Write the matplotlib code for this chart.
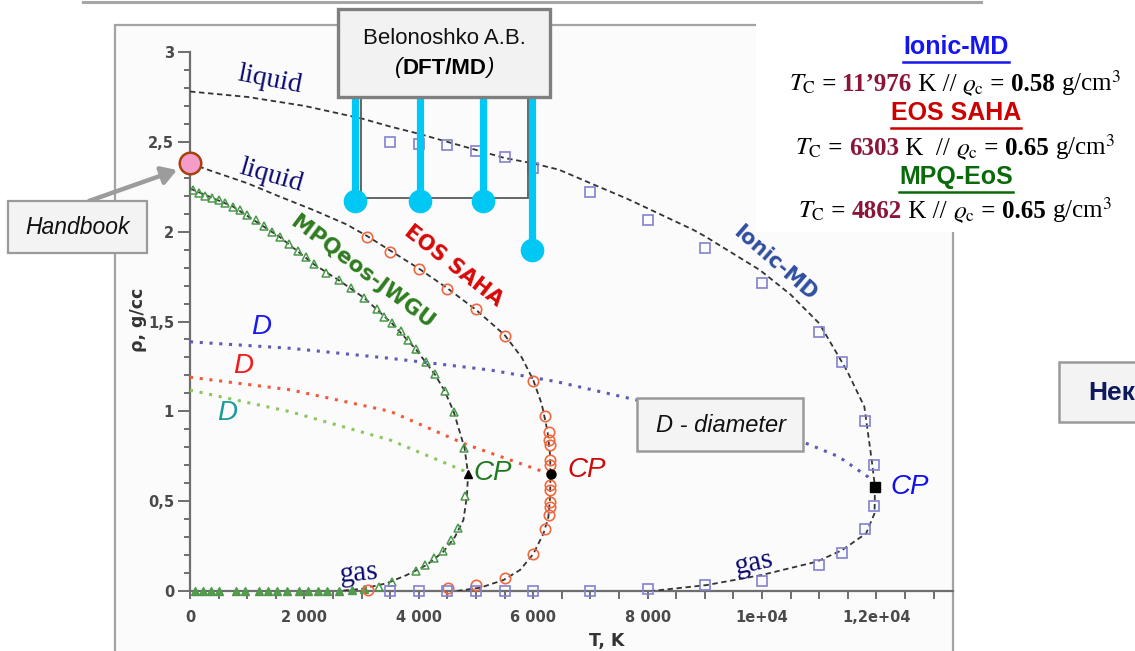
import matplotlib
matplotlib.use("Agg")
import matplotlib.pyplot as plt
from matplotlib.patches import Rectangle
from matplotlib.lines import Line2D
from matplotlib.ticker import MultipleLocator
from matplotlib.offsetbox import TextArea, HPacker, AnnotationBbox

plt.rcParams["mathtext.fontset"] = "stix"

W, H, DPI = 1135, 651, 100

# ---------------- data: density of the coexisting phases (g/cc) vs T (K) -------------
# MPQeos-JWGU (triangles)
mpq_liq_T = [50, 160, 270, 390, 500, 620, 750, 870, 1000, 1150, 1300, 1440, 1580, 1730,
             1880, 2020, 2160, 2370, 2600, 2815, 3050, 3265, 3400, 3530, 3685, 3815, 3950,
             4120, 4280, 4450, 4610, 4795]
mpq_liq_rho = [2.23, 2.215, 2.20, 2.19, 2.175, 2.16, 2.14, 2.12, 2.095, 2.065, 2.03, 2.00,
               1.97, 1.93, 1.895, 1.86, 1.82, 1.768, 1.731, 1.684, 1.629, 1.568, 1.526,
               1.493, 1.449, 1.397, 1.345, 1.276, 1.206, 1.115, 0.998, 0.796]
mpq_gas_T = [4805, 4680, 4560, 4420, 4270, 4110, 3960, 3540, 3300]
mpq_gas_rho = [0.53, 0.352, 0.282, 0.225, 0.185, 0.147, 0.109, 0.05, 0.022]
mpq_vap_T = [80, 220, 360, 500, 800, 960, 1210, 1360, 1520, 1700, 1910, 2060, 2240, 2400,
             2600, 2830, 3050]
mpq_vap_rho = [0, 0, 0, 0, 0, 0, 0, 0, 0, 0, 0, 0, 0, 0, 0, 0.005, 0.01]
mpq_fit_T = [0, 750, 1570, 2160, 2600, 3050, 3530, 3950, 4280, 4450, 4610, 4800, 4862,
             4840, 4780, 4630, 4430, 4140, 3790, 3440, 3000, 2600]
mpq_fit_rho = [2.24, 2.14, 1.97, 1.82, 1.73, 1.63, 1.49, 1.345, 1.206, 1.115, 0.998, 0.796,
               0.65, 0.525, 0.395, 0.30, 0.219, 0.145, 0.089, 0.043, 0.012, 0.0]
mpq_Tc, mpq_rhoc = 4862, 0.65

# EOS SAHA (circles)
saha_liq_T = [3100, 3500, 4000, 4500, 5000, 5500, 6000, 6210, 6270, 6285, 6290, 6300, 6300]
saha_liq_rho = [1.968, 1.888, 1.79, 1.68, 1.567, 1.42, 1.17, 0.975, 0.887, 0.84, 0.81,
                0.729, 0.70]
saha_gas_T = [6300, 6300, 6290, 6290, 6280, 6205, 6000, 5500, 5000, 4510, 3110]
saha_gas_rho = [0.59, 0.56, 0.497, 0.47, 0.423, 0.347, 0.205, 0.07, 0.033, 0.016, 0.005]
saha_fit_T = [0, 400, 1000, 1570, 2160, 2740, 3100, 3500, 4000, 4500, 5000, 5500, 5800,
              6000, 6150, 6250, 6295, 6303, 6295, 6265, 6180, 6000, 5770, 5480, 5070, 4660]
saha_fit_rho = [2.38, 2.335, 2.27, 2.195, 2.12, 2.04, 1.975, 1.895, 1.795, 1.685, 1.565,
                1.425, 1.30, 1.175, 1.04, 0.89, 0.76, 0.65, 0.52, 0.41, 0.32, 0.205, 0.117,
                0.061, 0.018, 0.0]
saha_Tc, saha_rhoc = 6303, 0.65

# Ionic-MD (squares)
ionic_liq_T = [3500, 4000, 4500, 5000, 5500, 6000, 7000, 8000, 9000, 10000, 11000, 11400,
               11800, 11960]
ionic_liq_rho = [2.50, 2.49, 2.485, 2.45, 2.415, 2.355, 2.222, 2.065, 1.907, 1.716, 1.443,
                 1.276, 0.946, 0.70]
ionic_gas_T = [11960, 11800, 11400, 11000, 10000, 9000, 8000, 7000, 6000, 5500, 5000, 4500,
               4000, 3500]
ionic_gas_rho = [0.473, 0.345, 0.211, 0.145, 0.056, 0.033, 0.011, 0.0, 0.0, 0.0, 0.0, 0.0,
                 0.0, 0.0]
ionic_fit_T = [0, 1000, 2000, 3000, 3500, 4000, 4500, 5000, 5500, 6000, 6450, 7000, 7630,
               8000, 8800, 9000, 9965, 10500, 11000, 11480, 11790, 11918, 11976, 11968,
               11822, 11405, 10957, 9995, 9033, 8072]
ionic_fit_rho = [2.78, 2.75, 2.70, 2.63, 2.585, 2.545, 2.50, 2.455, 2.41, 2.38, 2.345, 2.27,
                 2.185, 2.13, 2.01, 1.975, 1.786, 1.65, 1.49, 1.23, 1.026, 0.73, 0.58, 0.432,
                 0.321, 0.228, 0.163, 0.089, 0.033, 0.0]
ionic_Tc, ionic_rhoc = 11976, 0.58

# rectilinear diameters
d_ionic_T = [0, 1750, 3500, 5250, 6410, 7810, 10750, 11340, 11850, 11976]
d_ionic_rho = [1.387, 1.351, 1.295, 1.23, 1.165, 1.063, 0.825, 0.748, 0.636, 0.58]
d_saha_T = [0, 1750, 3500, 4810, 6303]
d_saha_rho = [1.19, 1.12, 1.0, 0.818, 0.65]
d_mpq_T = [0, 1750, 3500, 4780, 4862]
d_mpq_rho = [1.118, 0.998, 0.84, 0.67, 0.65]

# DFT/MD points (Belonoshko A.B.) and handbook liquid density at T = 0
bel_T = [2890, 4020, 5130, 5975]
bel_rho = [2.17, 2.17, 2.17, 1.90]
handbook_T, handbook_rho = 0, 2.38

# axis ticks
x_ticks = [0, 2000, 4000, 6000, 8000, 10000, 12000]
x_tick_labels = ["0", "2 000", "4 000", "6 000", "8 000", "1e+04", "1,2e+04"]
y_ticks = [0, 0.5, 1, 1.5, 2, 2.5, 3]
y_tick_labels = ["0", "0,5", "1", "1,5", "2", "2,5", "3"]

# ---------------- figure helpers (pixel coordinates, origin top-left) -----------------
fig = plt.figure(figsize=(W / DPI, H / DPI), dpi=DPI)
fig.patch.set_facecolor("white")

NARROW = ["Liberation Sans Narrow", "Liberation Sans"]
SANS = ["Liberation Sans", "DejaVu Sans"]
SERIF = ["Liberation Serif", "DejaVu Serif"]


def fx(px):
    return px / W


def fy(py):
    return 1 - py / H


def fig_rect(x0, y0, x1, y1, **kw):
    r = Rectangle((fx(x0), fy(y1)), fx(x1) - fx(x0), fy(y0) - fy(y1),
                  transform=fig.transFigure, **kw)
    fig.add_artist(r)
    return r


def rich_row(cx, cy, pieces, size, family):
    boxes = [TextArea(s, textprops=dict(fontsize=size, family=family, **p)) for s, p in pieces]
    pack = HPacker(children=boxes, align="baseline", pad=0, sep=0)
    ab = AnnotationBbox(pack, (cx, H - cy), xycoords="figure pixels", frameon=False,
                        box_alignment=(0.5, 0.5), pad=0, zorder=6)
    fig.add_artist(ab)
    return ab


# page rule and chart panel
fig.add_artist(Line2D([fx(83), fx(981)], [fy(1.5), fy(1.5)], color="#a6a6a6", lw=2.2,
                      transform=fig.transFigure))
fig_rect(115, 25, 953, 680, facecolor="#fbfbfb", edgecolor="#a3a3a3", lw=1.6, zorder=-10)
fig_rect(756, 18, 1135, 232, facecolor="white", edgecolor="none", zorder=-9)

# ---------------- axes -----------------------------------------------------------------
ax = fig.add_axes([fx(190), fy(591), fx(953) - fx(190), fy(52) - fy(591)])
ax.set_xlim(0, 13340)
ax.set_ylim(0, 3)
ax.patch.set_visible(False)
for s in ["top", "right"]:
    ax.spines[s].set_visible(False)
for s in ["left", "bottom"]:
    ax.spines[s].set_color("#6e6e6e")
    ax.spines[s].set_linewidth(1.6)

ax.set_xticks(x_ticks)
ax.set_xticklabels(x_tick_labels)
ax.set_yticks(y_ticks)
ax.set_yticklabels(y_tick_labels)
ax.xaxis.set_minor_locator(MultipleLocator(500))
ax.yaxis.set_minor_locator(MultipleLocator(0.1))
ax.tick_params(axis="x", which="both", direction="out", length=6, width=1.4, color="#6e6e6e",
               pad=8, labelsize=10.5, labelcolor="#4a4a4a")
ax.tick_params(axis="y", which="major", direction="out", length=8.5, width=1.4,
               color="#6e6e6e", pad=3, labelsize=10.5, labelcolor="#4a4a4a")
ax.tick_params(axis="y", which="minor", direction="out", length=4, width=1.4, color="#6e6e6e")
for lab in ax.get_xticklabels() + ax.get_yticklabels():
    lab.set_fontweight("bold")
    lab.set_family("DejaVu Sans")

ax.set_ylabel("ρ, g/cc", fontsize=12.5, fontweight="bold", color="#333333", family="DejaVu Sans")
ax.yaxis.set_label_coords((147 - 190) / 763, (591 - 320) / 539)
ax.set_xlabel("T, K", fontsize=12.5, fontweight="bold", color="#333333", family="DejaVu Sans",
              va="top")
ax.xaxis.set_label_coords((607 - 190) / 763, (591 - 632) / 539)

# fitted coexistence curves
dash = (0, (3, 2))
ax.plot(mpq_fit_T, mpq_fit_rho, ls=dash, color="#333333", lw=1.3, zorder=3)
ax.plot(saha_fit_T, saha_fit_rho, ls=dash, color="#333333", lw=1.3, zorder=3)
ax.plot(ionic_fit_T, ionic_fit_rho, ls=dash, color="#333333", lw=1.3, zorder=3)

# diameters
dot = (0, (1, 2.2))
ax.plot(d_ionic_T, d_ionic_rho, ls=dot, color="#5b5bb5", lw=2.2, zorder=3)
ax.plot(d_saha_T, d_saha_rho, ls=dot, color="#f05a3a", lw=2.2, zorder=3)
ax.plot(d_mpq_T, d_mpq_rho, ls=dot, color="#8cc65e", lw=2.2, zorder=3)

# simulation points
green, red_o, blue_sq = "#4b9a4b", "#f0683f", "#8282cf"
ax.plot(mpq_liq_T, mpq_liq_rho, ls="none", marker="^", ms=6, mfc="none", mec=green, mew=1.1,
        zorder=4)
ax.plot(mpq_gas_T, mpq_gas_rho, ls="none", marker="^", ms=6, mfc="none", mec=green, mew=1.1,
        zorder=4)
ax.plot(mpq_vap_T, mpq_vap_rho, ls="none", marker="^", ms=5.5, mfc="#5a9a4a", mec=green,
        mew=1.0, zorder=4, clip_on=False)
ax.plot(saha_liq_T, saha_liq_rho, ls="none", marker="o", ms=7.5, mfc="none", mec=red_o,
        mew=1.2, zorder=4)
ax.plot(saha_gas_T, saha_gas_rho, ls="none", marker="o", ms=7.5, mfc="none", mec=red_o,
        mew=1.2, zorder=4, clip_on=False)
ax.plot(ionic_liq_T, ionic_liq_rho, ls="none", marker="s", ms=6.5, mfc="none", mec=blue_sq,
        mew=1.2, zorder=4)
ax.plot(ionic_gas_T, ionic_gas_rho, ls="none", marker="s", ms=6.5, mfc="none", mec=blue_sq,
        mew=1.2, zorder=4, clip_on=False)

# critical points
ax.plot([mpq_Tc], [mpq_rhoc], ls="none", marker="^", ms=5.5, color="black", zorder=5)
ax.plot([saha_Tc], [saha_rhoc], ls="none", marker="o", ms=6.5, color="black", zorder=5)
ax.plot([ionic_Tc], [ionic_rhoc], ls="none", marker="s", ms=6.5, color="black", zorder=5)

# handbook point
ax.plot([handbook_T], [handbook_rho], ls="none", marker="o", ms=15.5, mfc="#f59cc8",
        mec="#a5420e", mew=1.8, clip_on=False, zorder=8)

# DFT/MD pins hanging from the reference box
inv = ax.transData.inverted()
rho_top = inv.transform((0, H - 97))[1]
ax.add_patch(Rectangle((inv.transform((361, 0))[0], inv.transform((0, H - 198))[1]),
                       inv.transform((528, 0))[0] - inv.transform((361, 0))[0],
                       rho_top - inv.transform((0, H - 198))[1],
                       fill=False, edgecolor="#5a5a5a", lw=1.3, zorder=5, clip_on=False))
for t, r in zip(bel_T, bel_rho):
    ax.plot([t, t], [r, rho_top], color="#00c8f5", lw=5.2, solid_capstyle="butt",
            clip_on=False, zorder=6)
    ax.plot([t], [r], ls="none", marker="o", ms=16, color="#00c8f5", clip_on=False, zorder=6)

# curve labels
navy = "#0a0a6e"
ax.text(1399, 2.844, "liquid", fontsize=20, family=SERIF, color=navy, rotation=-11,
        ha="center", va="center", rotation_mode="anchor")
ax.text(1420, 2.31, "liquid", fontsize=20, family=SERIF, color=navy, rotation=-16,
        ha="center", va="center", rotation_mode="anchor")
ax.text(2955, 0.10, "gas", fontsize=21, family=SERIF, color=navy, rotation=5,
        ha="center", va="center", rotation_mode="anchor")
ax.text(9860, 0.156, "gas", fontsize=21, family=SERIF, color=navy, rotation=12,
        ha="center", va="center", rotation_mode="anchor")
ax.text(3007, 1.775, "MPQeos-JWGU", fontsize=15.5, fontweight="bold", family="DejaVu Sans",
        color="#2e7d1f", rotation=-37, ha="center", va="center", rotation_mode="anchor")
ax.text(4598, 1.809, "EOS SAHA", fontsize=15, fontweight="bold", family="DejaVu Sans",
        color="#d80808", rotation=-38, ha="center", va="center", rotation_mode="anchor")
ax.text(10227, 1.822, "Ionic-MD", fontsize=15, fontweight="bold", family="DejaVu Sans",
        color="#2f4f9f", rotation=-41, ha="center", va="center", rotation_mode="anchor")

ax.text(1236, 1.47, "D", fontsize=20, style="italic", family=SANS, color="#1a1aee",
        ha="center", va="center")
ax.text(925, 1.25, "D", fontsize=20, style="italic", family=SANS, color="#f21a1a",
        ha="center", va="center")
ax.text(643, 0.99, "D", fontsize=20, style="italic", family=SANS, color="#1a9a9a",
        ha="center", va="center")

ax.text(4948, 0.657, "CP", fontsize=20, style="italic", family=SANS, color="#1f7a1f",
        ha="left", va="center")
ax.text(6608, 0.673, "CP", fontsize=20, style="italic", family=SANS, color="#cc0a0a",
        ha="left", va="center")
ax.text(12238, 0.579, "CP", fontsize=20, style="italic", family=SANS, color="#1010ee",
        ha="left", va="center", clip_on=False)

# ---------------- callout boxes --------------------------------------------------------
fig_rect(338, 9, 550, 97, facecolor="#f2f2f2", edgecolor="#7f7f7f", lw=2.4, zorder=5)
fig.text(fx(444), fy(38), "Belonoshko A.B.", fontsize=16, family=NARROW, ha="center",
         va="center", color="#111111", zorder=6)
rich_row(444, 68, [("(", dict(style="italic")), ("DFT/MD", dict(fontweight="bold")),
                   (")", dict(style="italic"))], 16, NARROW)

fig_rect(8, 201, 147, 253, facecolor="#f3f3f3", edgecolor="#9a9a9a", lw=1.6, zorder=5)
fig.text(fx(78), fy(228), "Handbook", fontsize=16.5, style="italic", family=NARROW,
         ha="center", va="center", color="#111111", zorder=6)
ax.annotate("", xy=(177, H - 170), xycoords="figure pixels", xytext=(89, H - 201),
            textcoords="figure pixels",
            arrowprops=dict(arrowstyle="-|>,head_length=0.9,head_width=0.55",
                            color="#9c9c9c", lw=3.2, shrinkA=0, shrinkB=0),
            annotation_clip=False, zorder=7)

fig_rect(637, 398, 803, 451, facecolor="#f4f4f4", edgecolor="#9a9a9a", lw=1.8, zorder=5)
fig.text(fx(721), fy(425), "D - diameter", fontsize=17, style="italic", family=NARROW,
         ha="center", va="center", color="#111111", zorder=6)

fig_rect(1059, 362, 1160, 422, facecolor="#f3f3f3", edgecolor="#9a9a9a", lw=1.8, zorder=5)
fig.text(fx(1088), fy(393), "Нек", fontsize=19, fontweight="bold", family=NARROW,
         ha="left", va="center", color="#0d1a5e", zorder=6)

# ---------------- critical parameters panel --------------------------------------------
def tc_text(v):
    return f"{v // 1000}\u2019{v % 1000:03d}" if v >= 1000 * 10 else f"{v}"


rows = [
    ("Ionic-MD", "#1515f0", 47, 83, ionic_Tc, ionic_rhoc, " K // "),
    ("EOS SAHA", "#cc0000", 113, 147, saha_Tc, saha_rhoc, " K  // "),
    ("MPQ-EoS", "#0a6a0a", 177, 210, mpq_Tc, mpq_rhoc, " K // "),
]
headers = []
for name, col, hy, ry, tc, rc, sep in rows:
    t = fig.text(fx(956), fy(hy), name, fontsize=18, fontweight="bold", family=SANS,
                 color=col, ha="center", va="center", zorder=6)
    headers.append((t, col, hy))
    rich_row(955, ry, [
        (r"$T_\mathrm{C}$", {}),
        (" = ", dict(fontweight="bold")),
        (tc_text(tc), dict(fontweight="bold", color="#8b1538")),
        (sep, {}),
        (r"$\varrho_\mathrm{c}$", {}),
        (" = ", dict(fontweight="bold")),
        (f"{rc:.2f}", dict(fontweight="bold")),
        (r" g/cm$^3$", {}),
    ], 18, SERIF)

fig.canvas.draw()
renderer = fig.canvas.get_renderer()
for t, col, hy in headers:
    bb = t.get_window_extent(renderer)
    fig.add_artist(Line2D([bb.x0 / W, bb.x1 / W], [fy(hy + 15), fy(hy + 15)], color=col,
                          lw=1.8, transform=fig.transFigure))

fig.savefig("out.png", dpi=DPI)
